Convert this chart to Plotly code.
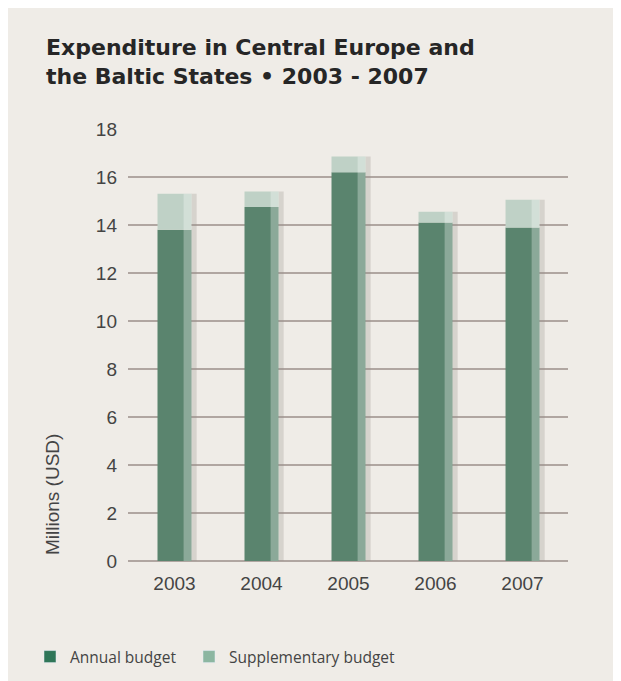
import plotly.graph_objects as go

years = ["2003", "2004", "2005", "2006", "2007"]
annual = [13.8, 14.75, 16.2, 14.1, 13.9]
supplementary = [1.5, 0.65, 0.65, 0.45, 1.15]
y_ticks = [0, 2, 4, 6, 8, 10, 12, 14, 16, 18]

totals = [a + s for a, s in zip(annual, supplementary)]

BG = "#efece7"
L, R, T, B = 120, 61, 121, 128
W, H = 621, 681
pw = W - L - R
ph = H - T - B

fig = go.Figure()

# shadow on the right side
fig.add_trace(go.Bar(x=years, y=totals, width=0.06, offset=0.195,
                     marker=dict(color="rgba(150,148,140,0.28)", line=dict(width=0)),
                     showlegend=False, hoverinfo="skip"))
fig.add_trace(go.Bar(x=years, y=annual, name="Annual budget", width=0.39,
                     marker=dict(color="#5a846e", line=dict(width=0)),
                     showlegend=False))
fig.add_trace(go.Bar(x=years, y=supplementary, base=annual, name="Supplementary budget",
                     width=0.39, marker=dict(color="#bfd1c6", line=dict(width=0)),
                     showlegend=False))
# highlight strip
fig.add_trace(go.Bar(x=years, y=totals, width=0.09, offset=0.105,
                     marker=dict(color="rgba(255,255,255,0.3)", line=dict(width=0)),
                     showlegend=False, hoverinfo="skip"))

# legend entries
fig.add_trace(go.Bar(x=[None], y=[None], name="Annual budget",
                     marker=dict(color="#2f7658"), legend="legend"))
fig.add_trace(go.Bar(x=[None], y=[None], name="Supplementary budget",
                     marker=dict(color="#8cb6a1"), legend="legend2"))

leg_y = -(649 - (H - B)) / ph
leg_common = dict(orientation="h", xanchor="left", yanchor="middle", y=leg_y,
                  font=dict(size=15.5, color="#444444", family="Open Sans, sans-serif"),
                  bgcolor="rgba(0,0,0,0)", itemwidth=30)

fig.update_layout(
    width=W, height=H,
    paper_bgcolor=BG, plot_bgcolor=BG,
    margin=dict(l=L, r=R, t=T, b=B),
    barmode="overlay",
    font=dict(family="Liberation Sans, Arial, sans-serif", color="#444444", size=19),
    title=dict(
        text="Expenditure in Central Europe and<br>the Baltic States \u2022 2003 - 2007",
        x=38 / W, xref="container", xanchor="left", y=1 - 47 / H, yref="container", yanchor="top",
        font=dict(family="DejaVu Sans, sans-serif", size=22, color="#262626", weight="bold"),
    ),
    showlegend=True,
    legend=dict(x=(22 - L) / pw, **leg_common),
    legend2=dict(x=(181 - L) / pw, **leg_common),
    xaxis=dict(range=[-0.534, 4.523], showgrid=False, showline=False, ticks="",
               tickfont=dict(size=19, color="#444444"), ticklabelstandoff=9),
    yaxis=dict(range=[0, 18], tickvals=y_ticks, showgrid=True, gridcolor="#b0a6a1", gridwidth=1.5,
               zeroline=True, zerolinecolor="#b0a6a1", zerolinewidth=1.5,
               showline=False, ticks="", tickfont=dict(size=19, color="#444444"),
               ticklabelstandoff=10),
    annotations=[dict(text="Millions (USD)", textangle=-90,
                      x=(44 - L) / pw, xref="paper", xanchor="center",
                      y=(H - B - 487) / ph, yref="paper", yanchor="middle",
                      showarrow=False, font=dict(size=19, color="#444444"))],
)

fig.write_html("out.html")
